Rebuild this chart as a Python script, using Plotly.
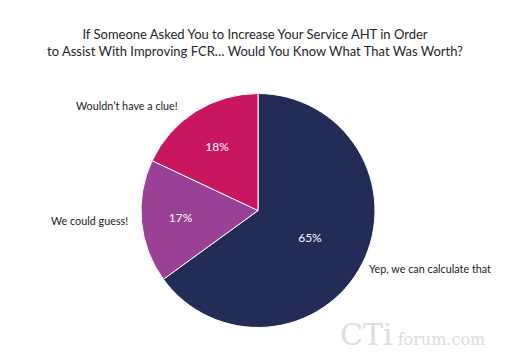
import plotly.graph_objects as go

labels = ["Yep, we can calculate that", "We could guess!", "Wouldn't have a clue!"]
values = [65, 17, 18]
colors = ["#222C57", "#9A4096", "#C8165F"]

fig = go.Figure()
fig.add_trace(go.Pie(
    labels=labels, values=values, sort=False, direction="clockwise", rotation=0,
    marker=dict(colors=colors, line=dict(color="white", width=1)),
    textinfo="percent", texttemplate="%{percent:.0%}",
    textposition="inside", insidetextorientation="horizontal",
    textfont=dict(color="white", size=12, family="Lato"),
    domain=dict(x=[141/510, 375/510], y=[1-328/362, 1-93/362]),
    showlegend=False, hoverinfo="label+percent",
))

font = dict(family="Lato", size=10.8, color="#222222")
fig.add_annotation(x=127/510, y=1-105/362, xref="paper", yref="paper", text="Wouldn\u2019t have a clue!",
                   showarrow=False, xanchor="center", yanchor="middle", font=font)
fig.add_annotation(x=89/510, y=1-220/362, xref="paper", yref="paper", text="We could guess!",
                   showarrow=False, xanchor="center", yanchor="middle", font=font)
fig.add_annotation(x=430/510, y=1-268/362, xref="paper", yref="paper", text="Yep, we can calculate that",
                   showarrow=False, xanchor="center", yanchor="middle", font=font)
fig.add_annotation(x=412/510, y=1-334/362, xref="paper", yref="paper",
                   text="<span style='font-size:30px'>CTi</span> forum.com",
                   showarrow=False, xanchor="center", yanchor="middle",
                   font=dict(family="DejaVu Serif", size=16, color="#dddddd"))

fig.update_layout(
    width=510, height=362, margin=dict(l=0, r=0, t=0, b=0),
    paper_bgcolor="white", plot_bgcolor="white",
    title=dict(text="If Someone Asked You to Increase Your Service AHT in Order<br>to Assist With Improving FCR\u2026 Would You Know What That Was Worth?",
               x=0.5, xanchor="center", yref="container", y=1-39/362, yanchor="top",
               font=dict(family="Lato", size=13, color="#262626")),
)
fig.write_html("out.html", config={"displayModeBar": False},
               post_script="document.body.style.margin='0';")
